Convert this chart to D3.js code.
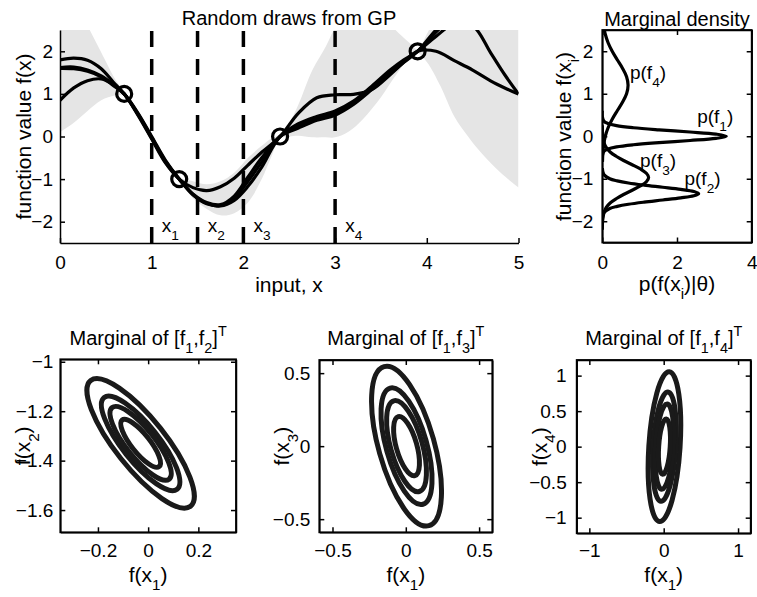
<!DOCTYPE html>
<html lang="en">
<head>
<meta charset="UTF-8">
<title>Random draws from GP</title>
<style>
  * { margin: 0; padding: 0; }
  body { background: #fff; }
  svg { display: block; font-family: "Liberation Sans", Arial, Helvetica, sans-serif; }
  .tick text { font-size: 19px; fill: #000; }
  .domain, .tick line { stroke: #000; stroke-width: 1.5; }
</style>
</head>
<body>
<script src="https://cdn.jsdelivr.net/npm/d3@7/dist/d3.min.js"></script>
<script>
// ---- values ----
// four random draws, sampled at drawX
var drawX = [0, 0.15, 0.3, 0.45, 0.58, 0.7, 0.85, 1.0, 1.15, 1.3, 1.45, 1.6, 1.75, 1.9, 2.05, 2.2, 2.4,
             2.6, 2.8, 3.0, 3.2, 3.4, 3.6, 3.75, 3.9, 4.1, 4.3, 4.5, 4.7, 4.85, 5.0];
var drawA = [1.80, 1.84, 1.79, 1.59, 1.28, 1.0, 0.53, -0.02, -0.58, -1.0, -1.36, -1.57, -1.63, -1.50, -1.17, -0.72, 0.0,
             0.25, 0.42, 0.55, 0.80, 1.14, 1.52, 1.77, 2.0, 2.45, 2.85, 3.15, 3.3, 3.3, 3.2];
var drawB = [1.60, 1.59, 1.53, 1.40, 1.20, 1.0, 0.55, 0.0, -0.56, -1.0, -1.37, -1.58, -1.62, -1.45, -1.05, -0.60, 0.0,
             0.30, 0.47, 0.60, 0.83, 1.18, 1.56, 1.80, 2.0, 2.35, 2.65, 2.60, 1.95, 1.45, 1.0];
var drawC = [0.85, 1.14, 1.31, 1.35, 1.22, 1.0, 0.50, -0.06, -0.62, -1.0, -1.20, -1.27, -1.18, -0.98, -0.67, -0.37, 0.0,
             0.55, 0.91, 0.98, 0.99, 1.10, 1.45, 1.74, 2.0, 2.5, 2.9, 3.2, 3.4, 3.5, 3.5];
var drawD = [1.62, 1.63, 1.56, 1.42, 1.22, 1.0, 0.52, -0.04, -0.60, -1.0, -1.35, -1.55, -1.60, -1.40, -0.95, -0.50, 0.0,
             0.20, 0.38, 0.50, 0.75, 1.10, 1.48, 1.75, 2.0, 2.0, 1.78, 1.56, 1.30, 1.14, 1.0];

// grey band (posterior +/- 2 sd)
var bandX  = [0, 0.15, 0.3, 0.45, 0.6, 0.7, 0.85, 1.0, 1.15, 1.3, 1.45, 1.6, 1.75, 1.9, 2.05, 2.2, 2.3, 2.4, 2.5,
              2.6, 2.75, 2.9, 3.0, 3.15, 3.3, 3.5, 3.65, 3.8, 3.9, 4.0, 4.15, 4.3, 4.45, 4.6, 4.8, 5.0];
var bandHi = [3.6, 3.2, 2.6, 1.97, 1.35, 1.05, 0.60, 0.05, -0.50, -0.95, -1.05, -1.12, -1.05, -0.85, -0.50, -0.22, -0.05, 0.05, 0.32,
              0.75, 1.55, 2.12, 2.55, 2.95, 3.1, 2.9, 2.52, 2.22, 2.05, 2.4, 3.1, 3.6, 4.0, 4.2, 4.0, 3.8];
var bandLo = [0.10, 0.32, 0.60, 0.85, 0.96, 0.95, 0.45, -0.10, -0.68, -1.05, -1.45, -1.70, -1.85, -1.80, -1.55, -1.00, -0.50, -0.05, 0.0,
              0.02, -0.02, -0.02, -0.02, 0.12, 0.40, 0.92, 1.40, 1.82, 1.95, 1.75, 1.18, 0.47, 0.0, -0.40, -0.84, -1.20];

var obsX = [0.7, 1.3, 2.4, 3.9];
var obsY = [1, -1, 0, 2];
var testX = [1, 1.5, 2, 3];
var testName = ['1', '2', '3', '4'];

var topXTicks = [0, 1, 2, 3, 4, 5];
var topYTicks = [-2, -1, 0, 1, 2];
var densXTicks = [0, 2, 4];

// marginal densities p(f_i), value p at function value f
var dens1F = [-0.6, -0.45, -0.35, -0.3, -0.25, -0.2, -0.15, -0.1, -0.05, 0, 0.05, 0.1, 0.15, 0.2, 0.25, 0.3, 0.35, 0.45, 0.6];
var dens1P = [0.0, 0.003, 0.047, 0.15, 0.38, 0.83, 1.52, 2.35, 3.04, 3.32, 3.04, 2.35, 1.52, 0.83, 0.38, 0.15, 0.047, 0.003, 0.0];
var dens2F = [-1.95, -1.8, -1.7, -1.65, -1.6, -1.55, -1.5, -1.45, -1.4, -1.35, -1.3, -1.25, -1.2, -1.15, -1.1, -1.05, -1.0, -0.9, -0.75];
var dens2P = [0.001, 0.04, 0.20, 0.40, 0.70, 1.12, 1.62, 2.10, 2.45, 2.58, 2.45, 2.10, 1.62, 1.12, 0.70, 0.40, 0.20, 0.04, 0.001];
var dens3F = [-2.2, -1.97, -1.77, -1.67, -1.57, -1.47, -1.37, -1.27, -1.17, -1.07, -0.97, -0.87, -0.77, -0.67, -0.57, -0.47, -0.37, -0.27, -0.17, 0.03, 0.26];
var dens3P = [0.001, 0.01, 0.054, 0.11, 0.21, 0.37, 0.57, 0.80, 1.02, 1.18, 1.24, 1.18, 1.02, 0.80, 0.57, 0.37, 0.21, 0.11, 0.054, 0.01, 0.001];
var dens4F = [-0.6, -0.4, -0.2, 0.0, 0.2, 0.4, 0.6, 0.8, 1.0, 1.2, 1.4, 1.6, 1.8, 2.0, 2.2, 2.4, 2.5];
var dens4P = [0.005, 0.015, 0.037, 0.08, 0.155, 0.265, 0.40, 0.54, 0.65, 0.69, 0.65, 0.54, 0.40, 0.265, 0.155, 0.08, 0.055];
var densLabelP = [2.54, 2.2, 1.01, 0.74];
var densLabelF = [0.31, -1.15, -0.73, 1.34];
var densLabelName = ['1', '2', '3', '4'];

// contour ellipses of the pair marginals: [centre x, centre y, semi-major, semi-minor, angle deg]
var ellipse12 = [-0.03, -1.33, 0.323, 0.100, -52];
var ellipse13 = [0.005, 0.0, 0.566, 0.190, -74.3];
var ellipse14 = [0.01, 0.0, 1.056, 0.210, 86.5];
var ringScale = [1, 0.73, 0.57, 0.37];

var pairXTicks12 = [-0.2, 0, 0.2], pairYTicks12 = [-1, -1.2, -1.4, -1.6];
var pairXTicks13 = [-0.5, 0, 0.5], pairYTicks13 = [-0.5, 0, 0.5];
var pairXTicks14 = [-1, 0, 1],     pairYTicks14 = [-1, -0.5, 0, 0.5, 1];

// ---- drawing ----
var svg = d3.select('body').append('svg').attr('width', 757).attr('height', 597);

var fmt = function (d) { return String(d).replace('-', '\u2212'); };

// text with sub/superscripts: parts = [[string, shift]], shift 1 = sub, -1 = sup
function richText(g, x, y, parts, size, anchor, rotate) {
	var t = g.append('text')
		.attr('text-anchor', anchor || 'start')
		.style('font-size', size + 'px');
	if (rotate) t.attr('transform', 'translate(' + x + ',' + y + ') rotate(-90)');
	else t.attr('x', x).attr('y', y);
	var cur = 0;
	parts.forEach(function (p) {
		var off = p[1] === 1 ? size * 0.4 : (p[1] === -1 ? -size * 0.45 : 0);
		t.append('tspan')
			.attr('dy', off - cur)
			.style('font-size', (p[1] ? size * 0.72 : size) + 'px')
			.text(p[0]);
		cur = off;
	});
	return t;
}

function makeAxes(box, xDom, yDom, xTicks, yTicks, boxed, clipId) {
	var x = d3.scaleLinear().domain(xDom).range([box.left, box.right]);
	var y = d3.scaleLinear().domain(yDom).range([box.bottom, box.top]);
	var g = svg.append('g');

	svg.append('clipPath').attr('id', clipId).append('rect')
		.attr('x', box.left).attr('y', box.top)
		.attr('width', box.right - box.left).attr('height', box.bottom - box.top);

	var plot = g.append('g').attr('clip-path', 'url(#' + clipId + ')');

	var ax = g.append('g');
	ax.append('g')
		.attr('transform', 'translate(0,' + box.bottom + ')')
		.call(d3.axisBottom(x).tickValues(xTicks).tickFormat(fmt).tickSize(-5).tickSizeOuter(0).tickPadding(box.padX));
	ax.append('g')
		.attr('transform', 'translate(' + box.left + ',0)')
		.call(d3.axisLeft(y).tickValues(yTicks).tickFormat(fmt).tickSize(-5).tickSizeOuter(0).tickPadding(box.padY));
	if (boxed) {
		ax.append('g')
			.attr('transform', 'translate(0,' + box.top + ')')
			.call(d3.axisTop(x).tickValues(xTicks).tickFormat('').tickSize(-5).tickSizeOuter(0));
		ax.append('g')
			.attr('transform', 'translate(' + box.right + ',0)')
			.call(d3.axisRight(y).tickValues(yTicks).tickFormat('').tickSize(-5).tickSizeOuter(0));
	}
	return { x: x, y: y, g: g, plot: plot, ax: ax };
}

// -- top left: random draws --
var gp = makeAxes({ left: 60, right: 518.5, top: 30, bottom: 243, padX: 12.5, padY: 7 },
	[0, 5], [-2.5, 2.5], topXTicks, topYTicks, false, 'clipGP');

gp.plot.append('path')
	.datum(bandX)
	.attr('d', d3.area()
		.x(function (d) { return gp.x(d); })
		.y0(function (d, i) { return gp.y(bandLo[i]); })
		.y1(function (d, i) { return gp.y(bandHi[i]); })
		.curve(d3.curveCatmullRom.alpha(0.5)))
	.style('fill', '#e5e5e5');

gp.plot.selectAll('line.test')
	.data(testX)
	.enter()
	.append('line')
	.classed('test', true)
	.attr('x1', function (d) { return gp.x(d); })
	.attr('x2', function (d) { return gp.x(d); })
	.attr('y1', gp.y(-2.5))
	.attr('y2', gp.y(2.5))
	.style('stroke', '#000')
	.style('stroke-width', 3.5)
	.style('stroke-dasharray', '16,12');

var drawLine = d3.line()
	.x(function (d, i) { return gp.x(drawX[i]); })
	.y(function (d) { return gp.y(d); })
	.curve(d3.curveCatmullRom.alpha(0.5));

gp.plot.selectAll('path.draw')
	.data([drawA, drawB, drawC, drawD])
	.enter()
	.append('path')
	.classed('draw', true)
	.attr('d', drawLine)
	.style('fill', 'none')
	.style('stroke', '#000')
	.style('stroke-width', 3.2);

gp.plot.selectAll('circle.obs')
	.data(obsX)
	.enter()
	.append('circle')
	.classed('obs', true)
	.attr('cx', function (d) { return gp.x(d); })
	.attr('cy', function (d, i) { return gp.y(obsY[i]); })
	.attr('r', 7.5)
	.style('fill', 'none')
	.style('stroke', '#000')
	.style('stroke-width', 3.2);

testX.forEach(function (d, i) {
	richText(gp.g, gp.x(d + 0.11), gp.y(-2.24), [['x', 0], [testName[i], 1]], 19);
});

richText(svg, 289, 25, [['Random draws from GP', 0]], 20, 'middle');
richText(svg, 289, 292, [['input, x', 0]], 21, 'middle');
richText(svg, 30.5, 136.5, [['function value f(x)', 0]], 21, 'middle', true);

// -- top right: marginal densities --
var md = makeAxes({ left: 602.3, right: 751.7, top: 30, bottom: 242.5, padX: 13, padY: 9 },
	[0, 4], [-2.5, 2.5], densXTicks, topYTicks, true, 'clipMD');
md.ax.append('rect')
	.attr('x', 602.3).attr('y', 30).attr('width', 751.7 - 602.3).attr('height', 242.5 - 30)
	.style('fill', 'none').style('stroke', '#000').style('stroke-width', 1.8);

var densLine = d3.line()
	.x(function (d) { return md.x(d[1]); })
	.y(function (d) { return md.y(d[0]); })
	.curve(d3.curveCatmullRom.alpha(0.5));

[[dens1F, dens1P], [dens2F, dens2P], [dens3F, dens3P], [dens4F, dens4P]].forEach(function (pair) {
	md.plot.append('path')
		.datum(d3.zip(pair[0], pair[1]))
		.attr('d', densLine)
		.style('fill', 'none')
		.style('stroke', '#000')
		.style('stroke-width', 3.2);
});

densLabelP.forEach(function (p, i) {
	richText(md.g, md.x(p), md.y(densLabelF[i]), [['p(f', 0], [densLabelName[i], 1], [')', 0]], 19);
});

richText(svg, 677, 26, [['Marginal density', 0]], 20, 'middle');
richText(svg, 677, 291, [['p(f(x', 0], ['i', 1], [')|\u03b8)', 0]], 21, 'middle');
richText(svg, 570.5, 136.5, [['function value f(x', 0], ['i', 1], [')', 0]], 21, 'middle', true);

// -- bottom row: pair marginals --
function pairPanel(box, xDom, yDom, xTicks, yTicks, ell, second, clipId) {
	var p = makeAxes(box, xDom, yDom, xTicks, yTicks, true, clipId);
	p.ax.append('rect')
		.attr('x', box.left).attr('y', box.top)
		.attr('width', box.right - box.left).attr('height', box.bottom - box.top)
		.style('fill', 'none').style('stroke', '#000').style('stroke-width', 1.8);

	var kx = p.x(1) - p.x(0), ky = p.y(0) - p.y(1);
	var rings = p.plot.append('g')
		.attr('transform', 'translate(' + p.x(0) + ',' + p.y(0) + ') scale(' + kx + ',' + (-ky) + ')');
	rings.selectAll('ellipse')
		.data(ringScale)
		.enter()
		.append('ellipse')
		.attr('cx', ell[0])
		.attr('cy', ell[1])
		.attr('rx', function (s) { return ell[2] * s; })
		.attr('ry', function (s) { return ell[3] * s; })
		.attr('transform', 'rotate(' + ell[4] + ' ' + ell[0] + ' ' + ell[1] + ')')
		.attr('vector-effect', 'non-scaling-stroke')
		.style('fill', 'none')
		.style('stroke', '#1a1a1a')
		.style('stroke-width', 5);

	var cx = (box.left + box.right) / 2, cy = (box.top + box.bottom) / 2;
	richText(svg, cx, 345, [['Marginal of [f', 0], ['1', 1], [',f', 0], [second, 1], [']', 0], ['T', -1]], 20, 'middle');
	richText(svg, cx, 582, [['f(x', 0], ['1', 1], [')', 0]], 21, 'middle');
	richText(svg, box.left - 30, cy, [['f(x', 0], [second, 1], [')', 0]], 21, 'middle', true);
}

pairPanel({ left: 60.3, right: 236, top: 359.3, bottom: 532.3, padX: 11.5, padY: 7 },
	[-0.35, 0.35], [-1.69, -0.99], pairXTicks12, pairYTicks12, ellipse12, '2', 'clip12');
pairPanel({ left: 319.3, right: 492.3, top: 360, bottom: 532.3, padX: 11.5, padY: 9 },
	[-0.59, 0.59], [-0.59, 0.59], pairXTicks13, pairYTicks13, ellipse13, '3', 'clip13');
pairPanel({ left: 576.7, right: 750.7, top: 360, bottom: 533.3, padX: 10.5, padY: 10 },
	[-1.17, 1.17], [-1.22, 1.22], pairXTicks14, pairYTicks14, ellipse14, '4', 'clip14');
</script>
</body>
</html>
